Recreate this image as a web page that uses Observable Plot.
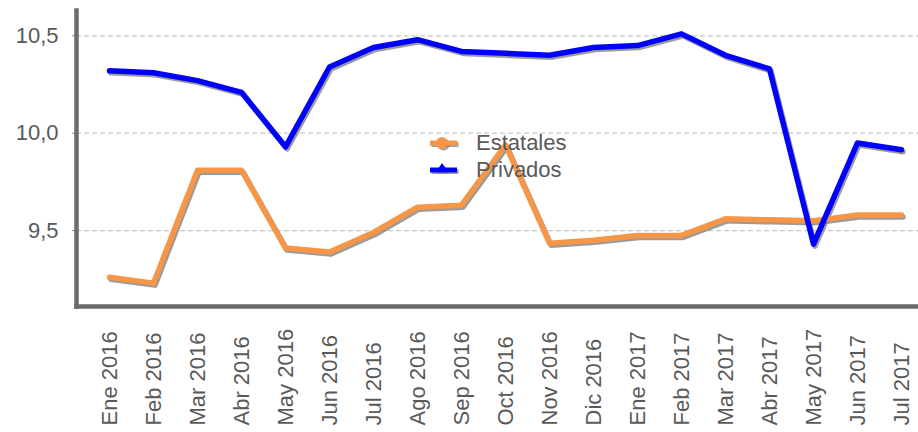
<!DOCTYPE html>
<html>
<head>
<meta charset="utf-8">
<script src="https://cdn.jsdelivr.net/npm/d3@7"></script>
<script src="https://cdn.jsdelivr.net/npm/@observablehq/plot@0.6"></script>
<style>
  html, body { margin: 0; padding: 0; background: #fff; }
  #wrap { position: relative; width: 918px; height: 432px; font-family: "Liberation Sans", Arial, sans-serif; }
  #wrap svg text { font-weight: normal; }
  #legend { position: absolute; left: 428px; top: 129px; font-size: 22px; color: #595959; }
  #legend .row { display: flex; align-items: center; height: 27px; }
  #legend svg { margin-right: 18px; overflow: visible; }
</style>
</head>
<body>
<div id="wrap"></div>
<script>
const months = ["Ene 2016","Feb 2016","Mar 2016","Abr 2016","May 2016","Jun 2016","Jul 2016","Ago 2016","Sep 2016","Oct 2016","Nov 2016","Dic 2016","Ene 2017","Feb 2017","Mar 2017","Abr 2017","May 2017","Jun 2017","Jul 2017"];
const estatales = [9.26, 9.23, 9.81, 9.81, 9.41, 9.39, 9.49, 9.62, 9.63, 9.94, 9.435, 9.45, 9.475, 9.475, 9.56, 9.555, 9.55, 9.58, 9.58];
const privados = [10.32, 10.31, 10.27, 10.21, 9.93, 10.34, 10.44, 10.48, 10.42, 10.41, 10.40, 10.44, 10.45, 10.51, 10.40, 10.33, 9.43, 9.95, 9.915];
const series = ["Estatales", "Privados"];
const colors = ["#F79646", "#0000FF"];
const yTicks = [9.5, 10.0, 10.5];

const est = months.map((m, i) => ({month: m, value: estatales[i]}));
const pri = months.map((m, i) => ({month: m, value: privados[i]}));

const fmt = d => d.toFixed(1).replace(".", ",");

const chart = Plot.plot({
  width: 918,
  height: 432,
  marginLeft: 76,
  marginRight: 0,
  marginTop: 10,
  marginBottom: 126,
  style: {fontFamily: "Liberation Sans, Arial, sans-serif", fontSize: "22px", color: "#595959", background: "#fff"},
  x: {type: "point", domain: months, padding: 0, insetLeft: 31, insetRight: 15, axis: null},
  y: {domain: [9.11, 10.63], axis: null},
  marks: [
    Plot.gridY(yTicks, {stroke: "#c8c8c8", strokeOpacity: 1, strokeWidth: 1.3, strokeDasharray: "5,3"}),
    Plot.axisY(yTicks, {label: null, tickSize: 4, tickPadding: 14, tickFormat: fmt, stroke: "#8a8a8a", fill: "#595959", fontSize: 22}),
    Plot.line(est, {x: "month", y: "value", stroke: "#7a7a7a", strokeOpacity: 0.75, strokeWidth: 5.5, dx: 1.5, dy: 2}),
    Plot.line(pri, {x: "month", y: "value", stroke: "#7a7a7a", strokeOpacity: 0.75, strokeWidth: 5.5, dx: 1.5, dy: 2}),
    Plot.line(est, {x: "month", y: "value", stroke: colors[0], strokeWidth: 5.5}),
    Plot.line(pri, {x: "month", y: "value", stroke: colors[1], strokeWidth: 5.5}),
    Plot.frame({anchor: "left", stroke: "#6b6b6b", strokeWidth: 4.5}),
    Plot.frame({anchor: "bottom", stroke: "#6b6b6b", strokeWidth: 4.5}),
    Plot.text(months, {x: d => d, frameAnchor: "bottom", dy: 119, rotate: -90, textAnchor: "start", lineAnchor: "middle", fontSize: 22, fill: "#595959"})
  ]
});
const wrap = document.getElementById("wrap");
wrap.appendChild(chart);

// legend
const legend = document.createElement("div");
legend.id = "legend";
series.forEach((s, i) => {
  const row = document.createElement("div");
  row.className = "row";
  const sym = i === 0
    ? `<circle cx="15.5" cy="15.5" r="6" fill="#7a7a7a" opacity="0.7"/><line x1="3.5" x2="30.5" y1="15.5" y2="15.5" stroke="#7a7a7a" stroke-width="5" opacity="0.7"/><line x1="2" x2="29" y1="14" y2="14" stroke="${colors[i]}" stroke-width="5"/><circle cx="14" cy="14" r="6" fill="${colors[i]}"/>`
    : `<path d="M15.5 8.5 L21.5 17.5 L9.5 17.5 Z" fill="#7a7a7a" opacity="0.7"/><line x1="3.5" x2="30.5" y1="15.5" y2="15.5" stroke="#7a7a7a" stroke-width="5" opacity="0.7"/><line x1="2" x2="29" y1="14" y2="14" stroke="${colors[i]}" stroke-width="5"/><path d="M14 7 L20 16 L8 16 Z" fill="${colors[i]}"/>`;
  row.innerHTML = `<svg width="30" height="27" viewBox="0 0 30 27">${sym}</svg><span>${s}</span>`;
  legend.appendChild(row);
});
wrap.appendChild(legend);
</script>
</body>
</html>
